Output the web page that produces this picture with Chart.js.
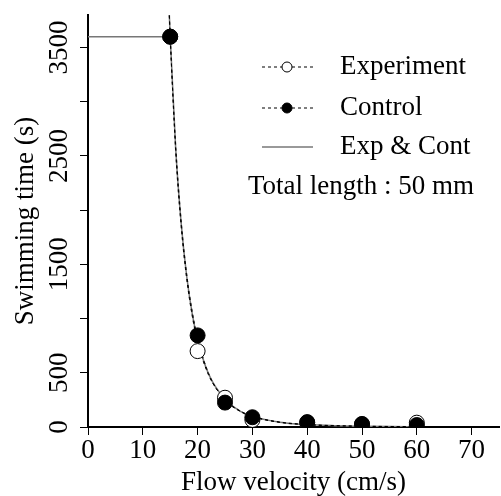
<!DOCTYPE html>
<html>
<head>
<meta charset="utf-8">
<script src="https://cdn.jsdelivr.net/npm/chart.js@4"></script>
<style>
  html, body { margin: 0; padding: 0; background: #fff; }
  #wrap { width: 501px; height: 496px; }
</style>
</head>
<body>
<div id="wrap"><canvas id="chart" width="501" height="496"></canvas></div>
<script>
// measured points
const flowVelocity = [15, 20, 25, 30, 40, 50, 60];
const experimentTime = [3600, 700, 270, 65, 40, 25, 40];
const controlTime = [3600, 845, 225, 90, 45, 28, 18];

// fitted curves
const curveX = [14.8, 15, 16, 17, 18, 19, 20, 22, 25, 28, 30, 35, 40, 45, 50, 55, 60];
const expFit = [3850, 3600, 2540, 1850, 1370, 1030, 785, 480, 255, 142, 100, 46, 23, 13, 8, 5, 3];
const ctrlFit = [3850, 3600, 2600, 1900, 1415, 1070, 820, 495, 250, 137, 95, 42, 21, 11, 6, 4, 2];
const bothFit = [3850, 3600, 2570, 1880, 1395, 1050, 805, 490, 255, 140, 98, 44, 22, 12, 7, 4, 3];

// 1 hour cap line
const capX = [0, 15];
const capY = [3600, 3600];

// axes
const xTickValues = [0, 10, 20, 30, 40, 50, 60, 70];
const yTickValues = [0, 500, 1000, 1500, 2000, 2500, 3000, 3500];
const yLabelValues = [0, 500, 1500, 2500, 3500];
const legendNames = ['Experiment', 'Control', 'Exp & Cont'];
const noteText = 'Total length : 50 mm';

const FONT = '"Liberation Serif", "DejaVu Serif", serif';

const toXY = (xs, ys) => xs.map((x, i) => ({ x: x, y: ys[i] }));

// y tick labels are drawn rotated, like the original
const rotatedYLabels = {
  id: 'rotatedYLabels',
  afterDraw(chart) {
    const ctx = chart.ctx;
    const y = chart.scales.y;
    ctx.save();
    ctx.fillStyle = '#000';
    ctx.font = '27px ' + FONT;
    ctx.textAlign = 'center';
    ctx.textBaseline = 'middle';
    yLabelValues.forEach(v => {
      const py = y.getPixelForValue(v);
      ctx.save();
      ctx.translate(60, py);
      ctx.rotate(-Math.PI / 2);
      ctx.fillText(String(v), 0, 0);
      ctx.restore();
    });
    ctx.restore();
  }
};

// legend box in the upper right
const customLegend = {
  id: 'customLegend',
  afterDraw(chart) {
    const ctx = chart.ctx;
    const rows = [67, 108, 147];
    ctx.save();
    ctx.font = '27px ' + FONT;
    ctx.textBaseline = 'middle';
    ctx.textAlign = 'left';
    rows.forEach((ry, i) => {
      ctx.beginPath();
      if (i < 2) {
        ctx.setLineDash([3, 3]);
        ctx.strokeStyle = '#000';
        ctx.lineWidth = 1;
      } else {
        ctx.setLineDash([]);
        ctx.strokeStyle = '#777';
        ctx.lineWidth = 1.5;
      }
      ctx.moveTo(262, ry);
      ctx.lineTo(313, ry);
      ctx.stroke();
      ctx.setLineDash([]);
      if (i < 2) {
        ctx.beginPath();
        ctx.arc(287, ry, 5, 0, Math.PI * 2);
        ctx.fillStyle = i === 0 ? '#fff' : '#000';
        ctx.fill();
        ctx.strokeStyle = '#000';
        ctx.lineWidth = 1;
        ctx.stroke();
      }
      ctx.fillStyle = '#000';
      ctx.fillText(legendNames[i], 340, ry);
    });
    ctx.fillText(noteText, 248, 187);
    ctx.restore();
  }
};

// Chart.js paints the first dataset on top, so the list runs top to bottom
new Chart(document.getElementById('chart'), {
  type: 'scatter',
  data: {
    datasets: [
      {
        label: 'Control',
        data: toXY(flowVelocity, controlTime),
        pointRadius: 7.5,
        pointBackgroundColor: '#000',
        pointBorderColor: '#000',
        pointBorderWidth: 1,
      },
      {
        label: 'Experiment',
        data: toXY(flowVelocity, experimentTime),
        pointRadius: 7.5,
        pointBackgroundColor: '#fff',
        pointBorderColor: '#000',
        pointBorderWidth: 1,
      },
      {
        label: 'Control fit',
        data: toXY(curveX, ctrlFit),
        showLine: true,
        borderColor: '#000',
        borderWidth: 1,
        borderDash: [3, 3],
        pointRadius: 0,
        cubicInterpolationMode: 'monotone',
      },
      {
        label: 'Experiment fit',
        data: toXY(curveX, expFit),
        showLine: true,
        borderColor: '#000',
        borderWidth: 1,
        borderDash: [3, 3],
        pointRadius: 0,
        cubicInterpolationMode: 'monotone',
      },
      {
        label: 'Exp & Cont',
        data: toXY(curveX, bothFit),
        showLine: true,
        borderColor: '#777',
        borderWidth: 1.5,
        pointRadius: 0,
        cubicInterpolationMode: 'monotone',
      },
      {
        label: 'cap',
        data: toXY(capX, capY),
        showLine: true,
        borderColor: '#777',
        borderWidth: 1.5,
        pointRadius: 0,
      },
    ],
  },
  options: {
    responsive: false,
    animation: false,
    layout: { autoPadding: false, padding: { top: 15, right: 2, left: 0, bottom: 0 } },
    plugins: {
      legend: { display: false },
      tooltip: { enabled: false },
    },
    scales: {
      x: {
        type: 'linear',
        min: 0,
        max: 75,
        afterBuildTicks: s => { s.ticks = xTickValues.map(v => ({ value: v })); },
        afterFit: s => { s.height = 69; s.paddingRight = 0; s.paddingLeft = 0; },
        ticks: {
          autoSkip: false,
          color: '#000',
          font: { family: FONT, size: 27 },
          padding: 0,
          maxRotation: 0,
        },
        grid: {
          drawOnChartArea: false,
          tickLength: 8,
          color: '#000',
          tickColor: '#000',
        },
        border: { color: '#000', width: 2 },
        title: {
          display: true,
          text: 'Flow velocity (cm/s)',
          color: '#000',
          font: { family: FONT, size: 27 },
          padding: { top: 0, bottom: -3 },
        },
      },
      y: {
        type: 'linear',
        min: 0,
        max: 3800,
        afterBuildTicks: s => { s.ticks = yTickValues.map(v => ({ value: v })); },
        afterFit: s => { s.width = 88; s.paddingTop = 0; s.paddingBottom = 0; },
        ticks: {
          autoSkip: false,
          color: 'rgba(0,0,0,0)',
          font: { family: FONT, size: 27 },
        },
        grid: {
          drawOnChartArea: false,
          tickLength: 8,
          color: '#000',
          tickColor: '#000',
        },
        border: { color: '#000', width: 2 },
        title: {
          display: true,
          text: 'Swimming time (s)',
          color: '#000',
          font: { family: FONT, size: 27 },
          padding: { top: 10, bottom: 0 },
        },
      },
    },
  },
  plugins: [rotatedYLabels, customLegend],
});
</script>
</body>
</html>
